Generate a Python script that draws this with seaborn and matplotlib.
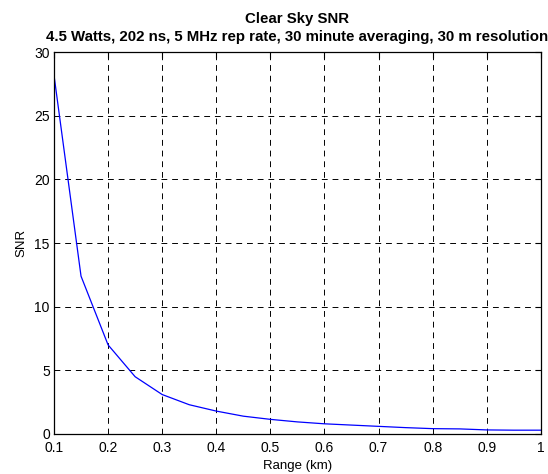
import matplotlib
matplotlib.use("Agg")
import matplotlib.pyplot as plt
import seaborn as sns
import pandas as pd

range_km = [0.1, 0.15, 0.2, 0.25, 0.3, 0.35, 0.4, 0.45, 0.5, 0.55, 0.6, 0.65, 0.7, 0.75, 0.8, 0.85, 0.9, 0.95, 1.0]
snr = [28.2, 12.4, 7.0, 4.5, 3.1, 2.3, 1.8, 1.4, 1.15, 0.95, 0.8, 0.7, 0.6, 0.5, 0.42, 0.4, 0.32, 0.3, 0.3]
x_ticks = [0.1, 0.2, 0.3, 0.4, 0.5, 0.6, 0.7, 0.8, 0.9, 1.0]
x_tick_labels = ["0.1", "0.2", "0.3", "0.4", "0.5", "0.6", "0.7", "0.8", "0.9", "1"]
y_ticks = [0, 5, 10, 15, 20, 25, 30]

sns.set_style("white")
plt.rcParams['font.family'] = ['Liberation Sans', 'DejaVu Sans']
plt.rcParams['text.color'] = 'black'
plt.rcParams['axes.labelcolor'] = 'black'

df = pd.DataFrame({"Range (km)": range_km, "SNR": snr})

fig = plt.figure(figsize=(5.48, 4.74), dpi=100)
ax = fig.add_axes([0.0985, 0.0844, 0.8885, 0.8056])
sns.lineplot(data=df, x="Range (km)", y="SNR", ax=ax, color="#0000ff", linewidth=0.9)

ax.set_xlim(0.1, 1.0)
ax.set_ylim(0, 30)
ax.set_xticks(x_ticks)
ax.set_xticklabels(x_tick_labels)
ax.set_yticks(y_ticks)
ax.tick_params(direction="in", length=4, width=0.8, labelsize=10, colors="black", top=True, right=True)
ax.tick_params(axis="x", pad=5)
ax.tick_params(axis="y", pad=3)
ax.grid(True, color="black", linestyle=(0, (6, 5)), linewidth=0.7)
for s in ax.spines.values():
    s.set_color("black")
    s.set_linewidth(0.9)
    s.set_visible(True)
ax.set_xlabel("Range (km)", fontsize=9.5, labelpad=4, color="black")
ax.set_ylabel("SNR", fontsize=9.5, labelpad=5, color="black")
ax.set_title("Clear Sky SNR\n4.5 Watts, 202 ns, 5 MHz rep rate, 30 minute averaging, 30 m resolution",
             fontsize=10.8, fontweight="bold", pad=8, linespacing=1.35, color="black")

fig.savefig("out.png", dpi=100, facecolor="white")
